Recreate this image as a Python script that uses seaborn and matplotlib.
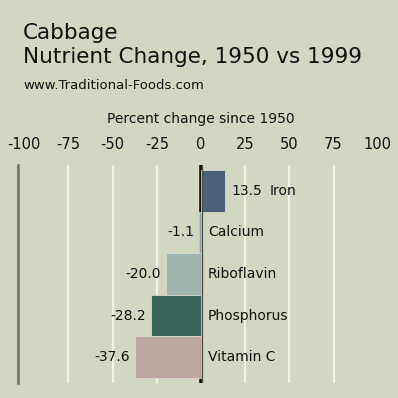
import matplotlib
matplotlib.use("Agg")
import matplotlib.pyplot as plt
import seaborn as sns
import pandas as pd

nutrients = ["Iron", "Calcium", "Riboflavin", "Phosphorus", "Vitamin C"]
changes = [13.5, -1.1, -20.0, -28.2, -37.6]
value_labels = ["13.5", "-1.1", "-20.0", "-28.2", "-37.6"]
ticks = [-100, -75, -50, -25, 0, 25, 50, 75, 100]
colors = ["#41627f", "#8c9ab0", "#9ab8b1", "#2f6c60", "#c1a39c"]

BG = "#d2d7c2"
sns.set_theme(style="white")
plt.rcParams["font.family"] = ["DejaVu Sans"]

W = H = 398
fig = plt.figure(figsize=(W / 100, H / 100), dpi=100, facecolor=BG)

x_left_val, x_right_val = -103.5, 110
px_per = 1.767
zero_px = 201
ax_left = zero_px + x_left_val * px_per
ax_right = zero_px + x_right_val * px_per
ax_top, ax_bot = 165, 383
ax = fig.add_axes([ax_left / W, 1 - ax_bot / H, (ax_right - ax_left) / W, (ax_bot - ax_top) / H])
ax.set_facecolor(BG)

df = pd.DataFrame({"nutrient": nutrients, "change": changes})
sns.barplot(data=df, x="change", y="nutrient", hue="nutrient", palette=colors,
            orient="h", width=1.0, legend=False, ax=ax, zorder=3,
            edgecolor="#d8dacb", linewidth=0.6)

ax.set_xlim(x_left_val, x_right_val)
ax.set_ylim(4.62, -0.62)

for t in ticks:
    if t in (-100, 100):
        continue
    if t == 0:
        ax.axvline(0, color="#111111", lw=2.6, zorder=2)
        ax.axvline(0.3, color="#4f4f4a", lw=0.9, zorder=4)
    else:
        ax.axvline(t, color="#f1f1e6", lw=1.6, zorder=1)

for s in ["top", "right", "bottom"]:
    ax.spines[s].set_visible(False)
ax.spines["left"].set_color("#6d6e62")
ax.spines["left"].set_linewidth(1.8)

ax.xaxis.tick_top()
ax.set_xticks(ticks)
ax.set_xticklabels([str(t) for t in ticks], fontsize=10.5, color="#111111")
ax.tick_params(axis="x", length=0, pad=9)
ax.set_yticks([])
ax.set_xlabel("")
ax.set_ylabel("")

for i, (v, lab, name) in enumerate(zip(changes, value_labels, nutrients)):
    if v >= 0:
        ax.annotate(lab, (v, i), xytext=(4.5, 0), textcoords="offset points",
                    ha="left", va="center", fontsize=10, color="#111111")
        ax.annotate(name, (v, i), xytext=(32, 0), textcoords="offset points",
                    ha="left", va="center", fontsize=10, color="#111111")
    else:
        ax.annotate(lab, (v, i), xytext=(-3.5, 0), textcoords="offset points",
                    ha="right", va="center", fontsize=10, color="#111111")
        ax.annotate(name, (0, i), xytext=(5, 0), textcoords="offset points",
                    ha="left", va="center", fontsize=10, color="#111111")

fig.text(23 / W, 1 - 39 / H, "Cabbage", fontsize=15.5, color="#111111", va="baseline")
fig.text(23 / W, 1 - 63 / H, "Nutrient Change, 1950 vs 1999", fontsize=15.5, color="#111111", va="baseline")
fig.text(23 / W, 1 - 89 / H, "www.Traditional-Foods.com", fontsize=9.5, color="#111111", va="baseline")
fig.text(zero_px / W, 1 - 122.5 / H, "Percent change since 1950", fontsize=10, color="#111111",
         va="baseline", ha="center")

fig.savefig("out.png", dpi=100, facecolor=BG)
